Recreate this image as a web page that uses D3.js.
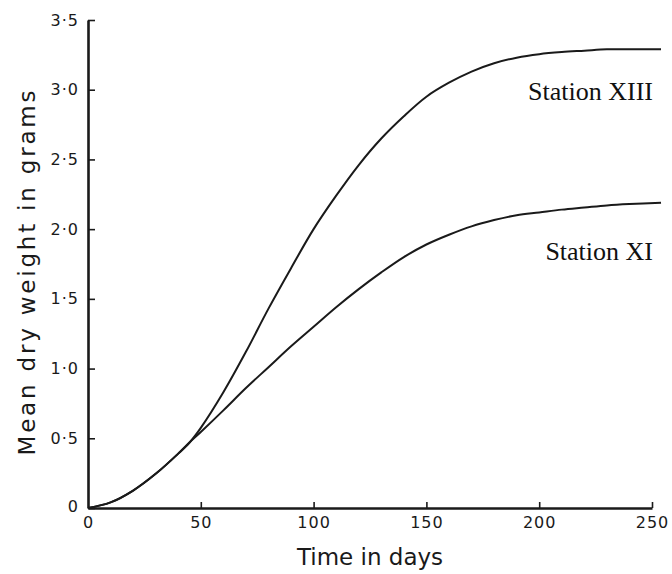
<!DOCTYPE html>
<html>
<head>
<meta charset="utf-8">
<script src="https://cdn.jsdelivr.net/npm/d3@7"></script>
<style>
    body { margin: 0; background: #fff; }
    svg { display: block; }
</style>
</head>
<body>
<div id="chart"></div>
<script>
// Значения
const days = [0, 10, 20, 30, 40, 45, 50, 60, 70, 80, 90, 100, 110, 120, 130, 140, 150, 160, 170, 180, 190, 200, 210, 220, 230, 240, 254];
const stationXIII = [0, 0.04, 0.125, 0.245, 0.39, 0.47, 0.575, 0.83, 1.12, 1.43, 1.72, 2.00, 2.24, 2.46, 2.65, 2.81, 2.95, 3.05, 3.13, 3.19, 3.23, 3.255, 3.27, 3.28, 3.29, 3.29, 3.29];
const stationXI = [0, 0.04, 0.125, 0.245, 0.39, 0.47, 0.545, 0.70, 0.86, 1.01, 1.16, 1.30, 1.44, 1.57, 1.69, 1.80, 1.89, 1.96, 2.02, 2.065, 2.10, 2.12, 2.14, 2.155, 2.17, 2.18, 2.19];
const seriesNames = ["Station XIII", "Station XI"];
const xTicks = [0, 50, 100, 150, 200, 250];
const yTicks = [0, 0.5, 1.0, 1.5, 2.0, 2.5, 3.0, 3.5];

const width = 672;
const height = 574;
const ink = "#1a1a1a";
const sans = "'DejaVu Sans', sans-serif";

const svg = d3.select("#chart")
    .append("svg")
    .attr("width", width)
    .attr("height", height);

const x = d3.scaleLinear().domain([0, 250]).range([88, 652]);
const y = d3.scaleLinear().domain([0, 3.5]).range([508, 20]);

// Ось Y
const yAxis = svg.append("g")
    .attr("transform", `translate(${x(0)},0)`)
    .call(d3.axisLeft(y)
        .tickValues(yTicks)
        .tickSizeInner(-7)
        .tickSizeOuter(0)
        .tickPadding(9)
        .tickFormat(d => d === 0 ? "0" : d3.format(".1f")(d).replace(".", "·")));

// Ось X
const xAxis = svg.append("g")
    .attr("transform", `translate(0,${y(0)})`)
    .call(d3.axisBottom(x)
        .tickValues(xTicks)
        .tickSizeInner(-6)
        .tickSizeOuter(0)
        .tickPadding(9));

[xAxis, yAxis].forEach(ax => {
    ax.select(".domain").attr("stroke", ink).attr("stroke-width", 2.6);
    ax.selectAll(".tick line").attr("stroke", ink).attr("stroke-width", 1.6);
    ax.selectAll(".tick text")
        .attr("fill", ink)
        .style("font-family", sans)
        .style("font-size", "16px")
        .style("letter-spacing", "1px");
});
xAxis.selectAll(".tick").filter(d => d === 0).select("line").remove();
yAxis.selectAll(".tick").filter(d => d === 0).select("text").attr("dy", "0.2em");

// Кривые
const line = d3.line()
    .x(d => x(d[0]))
    .y(d => y(d[1]))
    .curve(d3.curveCatmullRom.alpha(0.5));

[stationXIII, stationXI].forEach(values => {
    svg.append("path")
        .datum(days.map((d, i) => [d, values[i]]))
        .attr("fill", "none")
        .attr("stroke", ink)
        .attr("stroke-width", 2)
        .attr("d", line);
});

// Подписи кривых
const labelY = [100, 260];
seriesNames.forEach((name, i) => {
    svg.append("text")
        .attr("x", 653)
        .attr("y", labelY[i])
        .attr("text-anchor", "end")
        .style("font-family", "'Liberation Serif', 'Times New Roman', serif")
        .style("font-size", "26px")
        .attr("fill", "#111")
        .text(name);
});

// Подписи осей
svg.append("text")
    .attr("x", 370)
    .attr("y", 565)
    .attr("text-anchor", "middle")
    .style("font-family", sans)
    .style("font-size", "23px")
    .attr("fill", ink)
    .text("Time in days");

svg.append("text")
    .attr("transform", "translate(35,273) rotate(-90)")
    .attr("text-anchor", "middle")
    .attr("textLength", 365)
    .attr("lengthAdjust", "spacing")
    .style("font-family", sans)
    .style("font-size", "23px")
    .attr("fill", ink)
    .text("Mean dry weight in grams");
</script>
</body>
</html>
